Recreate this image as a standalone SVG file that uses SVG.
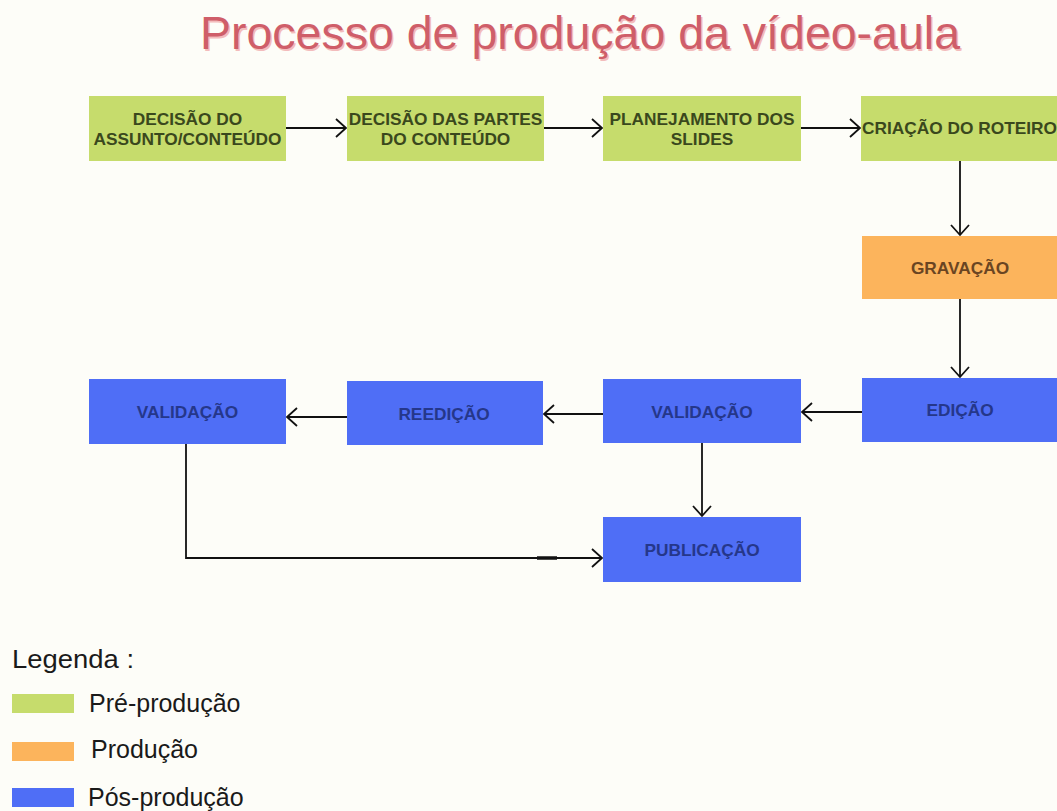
<svg xmlns="http://www.w3.org/2000/svg" width="1057" height="811" viewBox="0 0 1057 811">
  <defs>
    <style>
      .pre { fill: #c6dc6c; }
      .prod { fill: #fcb45c; }
      .pos { fill: #4f6ef6; }
      .lbl { font-family: "Liberation Sans", Arial, sans-serif; font-weight: bold; font-size: 17.3px; text-anchor: middle; }
      .tpre { fill: #3a481d; }
      .tprod { fill: #6a4522; }
      .tpos { fill: #25378a; }
      .conn { fill: none; stroke: #111; stroke-width: 1.8; }
      .leg { font-family: "Liberation Sans", Arial, sans-serif; font-size: 25px; fill: #1a1a1a; }
      .title { font-family: "Liberation Sans", Arial, sans-serif; font-size: 46.5px; }
    </style>
    <marker id="arrow" markerUnits="userSpaceOnUse" markerWidth="14" markerHeight="22" refX="11" refY="10" orient="auto" overflow="visible">
      <path d="M1,1 L11,10 L1,19" fill="none" stroke="#111" stroke-width="1.8"/>
    </marker>
  </defs>

  <rect x="0" y="0" width="1057" height="811" fill="#fdfdf8"/>

  <g id="title">
    <text class="title" x="201.5" y="50.5" fill="#f3bcbc">Processo de produção da vídeo-aula</text>
    <text class="title" x="200" y="49" fill="#cf5e69">Processo de produção da vídeo-aula</text>
  </g>

  <g id="connectors">
    <line class="conn" x1="286" y1="128" x2="346" y2="128" marker-end="url(#arrow)"/>
    <line class="conn" x1="544" y1="128" x2="602" y2="128" marker-end="url(#arrow)"/>
    <line class="conn" x1="801" y1="128" x2="860" y2="128" marker-end="url(#arrow)"/>
    <line class="conn" x1="960" y1="161" x2="960" y2="235" marker-end="url(#arrow)"/>
    <line class="conn" x1="960" y1="299" x2="960" y2="377" marker-end="url(#arrow)"/>
    <line class="conn" x1="862" y1="412" x2="802" y2="412" marker-end="url(#arrow)"/>
    <line class="conn" x1="603" y1="414" x2="544" y2="414" marker-end="url(#arrow)"/>
    <line class="conn" x1="347" y1="417" x2="287" y2="417" marker-end="url(#arrow)"/>
    <line class="conn" x1="702" y1="443" x2="702" y2="516" marker-end="url(#arrow)"/>
    <polyline class="conn" points="186,444 186,558 602,558" marker-end="url(#arrow)"/>
    <line x1="537" y1="558" x2="557" y2="558" stroke="#111" stroke-width="3.5"/>
  </g>

  <g id="n-decisao-assunto">
    <rect class="pre" x="89" y="96" width="197" height="65"/>
    <text class="lbl tpre" x="187.5" y="125">DECISÃO DO</text>
    <text class="lbl tpre" x="187.5" y="145">ASSUNTO/CONTEÚDO</text>
  </g>
  <g id="n-decisao-partes">
    <rect class="pre" x="347" y="96" width="197" height="65"/>
    <text class="lbl tpre" x="445.5" y="125">DECISÃO DAS PARTES</text>
    <text class="lbl tpre" x="445.5" y="145">DO CONTEÚDO</text>
  </g>
  <g id="n-planejamento">
    <rect class="pre" x="603" y="96" width="198" height="65"/>
    <text class="lbl tpre" x="702" y="125">PLANEJAMENTO DOS</text>
    <text class="lbl tpre" x="702" y="145">SLIDES</text>
  </g>
  <g id="n-roteiro">
    <rect class="pre" x="861" y="96" width="196" height="65"/>
    <text class="lbl tpre" x="959.5" y="134">CRIAÇÃO DO ROTEIRO</text>
  </g>
  <g id="n-gravacao">
    <rect class="prod" x="862" y="236" width="195" height="63"/>
    <text class="lbl tprod" x="960" y="274">GRAVAÇÃO</text>
  </g>
  <g id="n-edicao">
    <rect class="pos" x="862" y="378" width="195" height="64"/>
    <text class="lbl tpos" x="960" y="416">EDIÇÃO</text>
  </g>
  <g id="n-validacao2">
    <rect class="pos" x="603" y="379" width="198" height="64"/>
    <text class="lbl tpos" x="702" y="418">VALIDAÇÃO</text>
  </g>
  <g id="n-reedicao">
    <rect class="pos" x="347" y="381" width="196" height="64"/>
    <text class="lbl tpos" x="444" y="420">REEDIÇÃO</text>
  </g>
  <g id="n-validacao1">
    <rect class="pos" x="89" y="379" width="197" height="65"/>
    <text class="lbl tpos" x="187.5" y="418">VALIDAÇÃO</text>
  </g>
  <g id="n-publicacao">
    <rect class="pos" x="603" y="517" width="198" height="65"/>
    <text class="lbl tpos" x="702" y="556">PUBLICAÇÃO</text>
  </g>

  <g id="legend">
    <text class="leg" x="12" y="668" textLength="122" lengthAdjust="spacingAndGlyphs">Legenda :</text>
    <rect class="pre" x="12" y="694" width="62" height="19"/>
    <text class="leg" x="89" y="712">Pré-produção</text>
    <rect class="prod" x="12" y="742" width="62" height="19"/>
    <text class="leg" x="91" y="758">Produção</text>
    <rect class="pos" x="12" y="788" width="62" height="19"/>
    <text class="leg" x="88" y="806">Pós-produção</text>
  </g>
</svg>
